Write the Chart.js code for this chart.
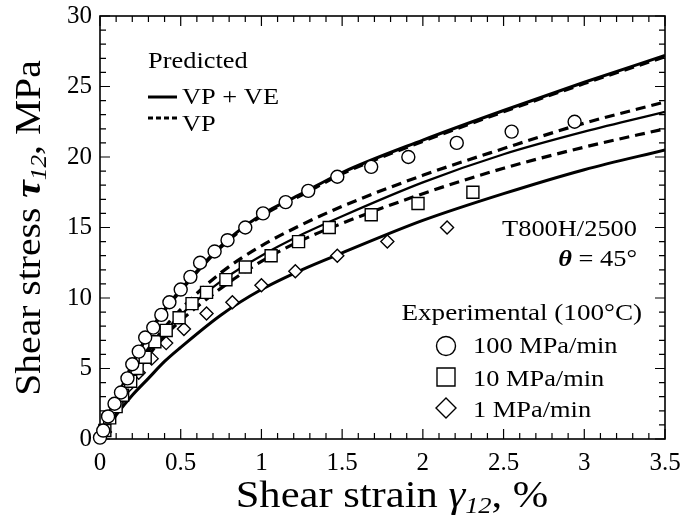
<!DOCTYPE html>
<html>
<head>
<meta charset="utf-8">
<script src="https://cdn.jsdelivr.net/npm/chart.js@4.4.0/dist/chart.umd.min.js"></script>
<style>
html, body { margin: 0; padding: 0; background: #fff; }
</style>
</head>
<body>
<canvas id="grafico" width="681" height="528"></canvas>
<script>
// Datos experimentales (100 C)
var strain100 = [0.0, 0.02, 0.05, 0.09, 0.13, 0.17, 0.20, 0.24, 0.28, 0.33, 0.38, 0.43, 0.50, 0.56, 0.62, 0.71, 0.79, 0.90, 1.01, 1.15, 1.29, 1.47, 1.68, 1.91, 2.21, 2.55, 2.94];
var stress100 = [0.1, 0.6, 1.6, 2.5, 3.3, 4.3, 5.3, 6.2, 7.2, 7.9, 8.8, 9.7, 10.6, 11.5, 12.5, 13.3, 14.1, 15.0, 16.0, 16.8, 17.6, 18.6, 19.3, 20.0, 21.0, 21.8, 22.5];
var strain10 = [0.03, 0.06, 0.10, 0.14, 0.19, 0.23, 0.28, 0.34, 0.41, 0.49, 0.57, 0.66, 0.78, 0.90, 1.06, 1.23, 1.42, 1.68, 1.97, 2.31];
var stress10 = [0.6, 1.5, 2.3, 3.1, 4.1, 5.0, 5.8, 6.9, 7.7, 8.6, 9.6, 10.4, 11.3, 12.2, 13.0, 14.0, 15.0, 15.9, 16.7, 17.5];
var strain1 = [0.03, 0.06, 0.11, 0.17, 0.24, 0.32, 0.41, 0.52, 0.66, 0.82, 1.00, 1.21, 1.47, 1.78, 2.15];
var stress1 = [0.5, 1.6, 2.5, 3.7, 4.7, 5.7, 6.8, 7.8, 8.9, 9.7, 10.9, 11.9, 13.0, 14.0, 15.0];

// Curvas predichas
var curveStrain = [0, 0.05, 0.1, 0.2, 0.3, 0.4, 0.5, 0.75, 1.0, 1.25, 1.5, 2.0, 2.5, 3.0, 3.5];
var vpve100 = [0, 1.6, 2.8, 5.3, 7.5, 9.2, 10.6, 13.7, 15.9, 17.4, 18.9, 21.2, 23.3, 25.3, 27.2];
var vp100 = [0, 1.6, 2.8, 5.3, 7.4, 9.1, 10.5, 13.6, 15.8, 17.3, 18.8, 21.1, 23.2, 25.2, 27.1];
var vp10 = [0, 1.3, 2.5, 4.6, 6.4, 7.9, 9.2, 11.8, 13.7, 15.2, 16.5, 18.7, 20.6, 22.4, 23.9];
var vpve10 = [0, 1.2, 2.3, 4.4, 6.2, 7.6, 8.8, 11.2, 13.0, 14.5, 15.8, 18.2, 20.2, 21.8, 23.2];
var vp1 = [0, 1.2, 2.2, 4.2, 5.9, 7.3, 8.4, 10.7, 12.6, 14.1, 15.3, 17.4, 19.2, 20.7, 22.0];
var vpve1 = [0, 0.9, 1.7, 3.1, 4.3, 5.5, 6.5, 8.8, 10.6, 12.0, 13.2, 15.5, 17.4, 19.1, 20.5];

var xTicks = [0, 0.5, 1, 1.5, 2, 2.5, 3, 3.5];
var yTicks = [0, 5, 10, 15, 20, 25, 30];

var serif = '"Liberation Serif", "Times New Roman", serif';

//<editor-fold desc="Funciones">
function pares(xs, ys) {
	return xs.map(function (x, i) {
		return {x: x, y: ys[i]};
	});
}

function curva(ys, dashed, width) {
	return {
		type: 'line',
		data: pares(curveStrain, ys),
		borderColor: '#000',
		borderWidth: width,
		borderDash: dashed ? [10, 6] : [],
		pointRadius: 0,
		fill: false,
		cubicInterpolationMode: 'monotone',
		order: 2
	};
}

function puntos(xs, ys, estilo, radio) {
	return {
		type: 'scatter',
		data: pares(xs, ys),
		pointStyle: estilo,
		pointRadius: radio,
		pointBackgroundColor: '#fff',
		pointBorderColor: '#000',
		pointBorderWidth: 1.4,
		showLine: false,
		clip: false,
		order: 1
	};
}

function texto(ctx, partes, x, y, align, escala) {
	var w = 0;
	partes.forEach(function (p) {
		ctx.font = p[1] + ' ' + p[2] + 'px ' + serif;
		w += ctx.measureText(p[0]).width;
	});
	ctx.save();
	ctx.translate(x, y);
	ctx.scale(escala || 1.1, 1);
	var cx = align === 'right' ? -w : (align === 'center' ? -w / 2 : 0);
	ctx.fillStyle = '#000';
	ctx.textAlign = 'left';
	ctx.textBaseline = 'alphabetic';
	partes.forEach(function (p) {
		ctx.font = p[1] + ' ' + p[2] + 'px ' + serif;
		ctx.fillText(p[0], cx, p[3] || 0);
		cx += ctx.measureText(p[0]).width;
	});
	ctx.restore();
}
//</editor-fold>

var marco = {
	id: 'marco',
	beforeDatasetsDraw: function (chart) {
		var ctx = chart.ctx, a = chart.chartArea;
		var xs = chart.scales.x, ys = chart.scales.y;
		ctx.save();
		ctx.strokeStyle = '#000';
		ctx.lineWidth = 1.2;
		ctx.beginPath();
		for (var i = 0; i <= 35; i++) {
			var px = xs.getPixelForValue(i / 10);
			var len = i % 5 === 0 ? 10 : 6;
			ctx.moveTo(px, a.bottom); ctx.lineTo(px, a.bottom - len);
			ctx.moveTo(px, a.top); ctx.lineTo(px, a.top + len);
		}
		for (var j = 0; j <= 30; j++) {
			var py = ys.getPixelForValue(j);
			var l2 = j % 5 === 0 ? 10 : 6;
			ctx.moveTo(a.left, py); ctx.lineTo(a.left + l2, py);
			ctx.moveTo(a.right, py); ctx.lineTo(a.right - l2, py);
		}
		ctx.stroke();
		ctx.lineWidth = 1.6;
		ctx.strokeRect(a.left, a.top, a.right - a.left, a.bottom - a.top);
		ctx.restore();
	},
	afterDraw: function (chart) {
		var ctx = chart.ctx;
		ctx.save();
		// titulos de ejes
		texto(ctx, [['Shear strain ', '', 37], ['\u03b3', 'italic', 37], ['12', 'italic', 23, 6], [', %', '', 37]],
			392, 507, 'center', 1.15);
		ctx.save();
		ctx.translate(40, 228);
		ctx.rotate(-Math.PI / 2);
		texto(ctx, [['Shear stress ', '', 36], ['\u03c4', 'bold italic', 36], ['12', 'italic', 23, 6], [', MPa', '', 36]],
			0, 0, 'center', 1.1);
		ctx.restore();

		// leyenda: predicho
		texto(ctx, [['Predicted', '', 24]], 148, 68, 'left');
		ctx.strokeStyle = '#000';
		ctx.lineWidth = 3;
		ctx.beginPath(); ctx.moveTo(148, 97); ctx.lineTo(177, 97); ctx.stroke();
		ctx.setLineDash([5, 3]);
		ctx.beginPath(); ctx.moveTo(148, 118); ctx.lineTo(177, 118); ctx.stroke();
		ctx.setLineDash([]);
		texto(ctx, [['VP + VE', '', 24]], 182, 104, 'left');
		texto(ctx, [['VP', '', 24]], 182, 131, 'left');

		// material
		texto(ctx, [['T800H/2500', '', 24]], 637, 236, 'right');
		texto(ctx, [['\u03b8', 'bold italic', 24], [' = 45\u00b0', '', 24]], 637, 266, 'right');

		// leyenda: experimental
		texto(ctx, [['Experimental (100\u00b0C)', '', 24]], 642, 320, 'right', 1.13);
		ctx.lineWidth = 1.4;
		ctx.fillStyle = '#fff';
		ctx.beginPath(); ctx.arc(446, 346, 9.5, 0, Math.PI * 2); ctx.fill(); ctx.stroke();
		ctx.beginPath(); ctx.rect(437, 368, 18, 18); ctx.fill(); ctx.stroke();
		ctx.beginPath();
		ctx.moveTo(446, 398); ctx.lineTo(456, 408); ctx.lineTo(446, 418); ctx.lineTo(436, 408); ctx.closePath();
		ctx.fill(); ctx.stroke();
		texto(ctx, [['100 MPa/min', '', 24]], 473, 353, 'left');
		texto(ctx, [['10 MPa/min', '', 24]], 473, 386, 'left');
		texto(ctx, [['1 MPa/min', '', 24]], 473, 417, 'left');
		ctx.restore();
	}
};

var config = {
	data: {
		datasets: [
			puntos(strain100, stress100, 'circle', 6.5),
			puntos(strain10, stress10, 'rect', 8.5),
			puntos(strain1, stress1, 'rectRot', 6.5),
			curva(vpve100, false, 3),
			curva(vp100, true, 3),
			curva(vp10, true, 3.2),
			curva(vpve10, false, 2.2),
			curva(vp1, true, 3.2),
			curva(vpve1, false, 3)
		]
	},
	options: {
		responsive: false,
		animation: false,
		devicePixelRatio: 1,
		layout: {padding: {top: 16, right: 16, left: 0, bottom: 0}},
		plugins: {legend: {display: false}, tooltip: {enabled: false}},
		scales: {
			x: {
				type: 'linear', min: 0, max: 3.5,
				afterFit: function (s) { s.height = 89; s.paddingLeft = 0; s.paddingRight = 0; },
				afterBuildTicks: function (s) { s.ticks = xTicks.map(function (v) { return {value: v}; }); },
				grid: {display: false, drawTicks: false},
				border: {display: false},
				ticks: {
					color: '#000', padding: 9, maxRotation: 0, font: {family: serif, size: 25},
					callback: function (v) { return String(v); }
				}
			},
			y: {
				type: 'linear', min: 0, max: 30,
				afterFit: function (s) { s.width = 100; s.paddingTop = 0; s.paddingBottom = 0; },
				afterBuildTicks: function (s) { s.ticks = yTicks.map(function (v) { return {value: v}; }); },
				grid: {display: false, drawTicks: false},
				border: {display: false},
				ticks: {
					color: '#000', padding: 8, font: {family: serif, size: 25},
					callback: function (v) { return String(v); }
				}
			}
		}
	},
	plugins: [marco]
};

new Chart(document.getElementById('grafico').getContext('2d'), config);
</script>
</body>
</html>
